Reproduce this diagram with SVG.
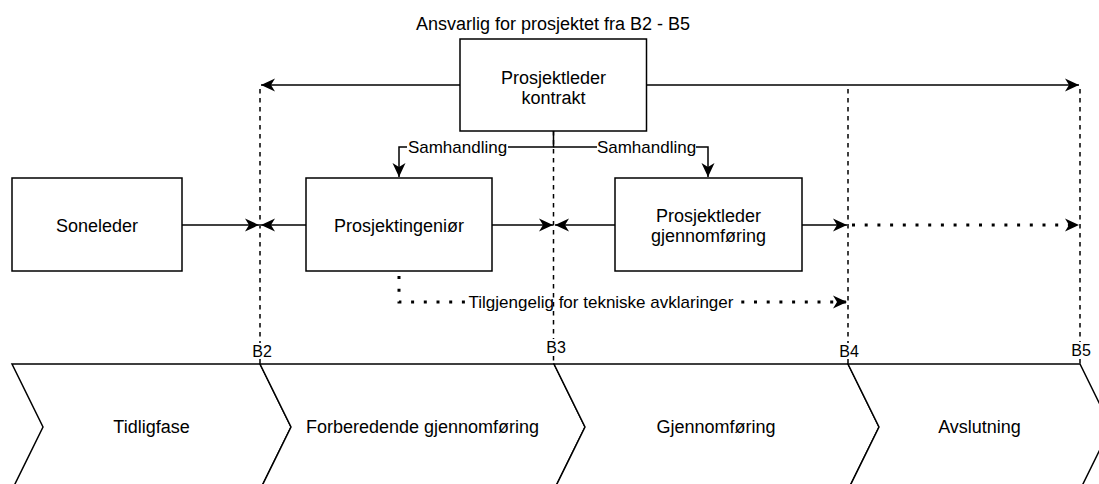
<svg xmlns="http://www.w3.org/2000/svg" width="1099" height="484" viewBox="0 0 1099 484">
  <style>
    text { font-family: "Liberation Sans", Arial, Helvetica, sans-serif; fill: #000; text-anchor: middle; }
    .node { fill: #fff; stroke: #000; stroke-width: 1.5; }
    .phase { fill: #fff; stroke: #000; stroke-width: 1.5; stroke-linejoin: miter; }
    .t18 { font-size: 18px; }
    .t17 { font-size: 17px; }
    .t16 { font-size: 16px; }
    .edge { fill: none; stroke: #000; stroke-width: 1.5; }
    .dotted { fill: none; stroke: #000; stroke-width: 3; stroke-dasharray: 3 9.7; }
    .dashed { fill: none; stroke: #000; stroke-width: 1.5; stroke-dasharray: 4.5 4.5; }
    .bg { fill: #fff; stroke: none; }
  </style>
  <defs>
    <marker id="arrow" markerWidth="15" markerHeight="14" refX="14" refY="7" orient="auto" markerUnits="userSpaceOnUse">
      <path d="M0,0.5 L14,7 L0,13.5 L4,7 Z" fill="#000"/>
    </marker>
  </defs>

  <!-- phase chevrons -->
  <g id="phase-tidligfase">
    <polygon class="phase" points="12,364 260,364 291,427 260,490 12,490 43,427"/>
    <text class="t18" x="151.5" y="433">Tidligfase</text>
  </g>
  <g id="phase-forberedende">
    <polygon class="phase" points="260,364 554,364 585,427 554,490 260,490 291,427"/>
    <text class="t18" x="422.5" y="433">Forberedende gjennomføring</text>
  </g>
  <g id="phase-gjennomforing">
    <polygon class="phase" points="554,364 848,364 879,427 848,490 554,490 585,427"/>
    <text class="t18" x="716" y="433">Gjennomføring</text>
  </g>
  <g id="phase-avslutning">
    <polygon class="phase" points="848,364 1080,364 1111,427 1080,490 848,490 879,427"/>
    <text class="t18" x="979.5" y="433">Avslutning</text>
  </g>

  <!-- connectors -->
  <g id="connectors">
    <!-- responsibility span from the contract lead -->
    <path class="edge" d="M460,85 L261,85" marker-end="url(#arrow)"/>
    <path class="edge" d="M646,85 L1079,85" marker-end="url(#arrow)"/>

    <!-- Samhandling links -->
    <path class="edge" d="M553.5,131 L553.5,147 L399,147 L399,177" marker-end="url(#arrow)"/>
    <path class="edge" d="M553.5,147 L708,147 L708,177" marker-end="url(#arrow)"/>
    <rect class="bg" x="407" y="138" width="101" height="18"/>
    <text class="t17" x="457.5" y="153">Samhandling</text>
    <rect class="bg" x="597" y="138" width="99" height="18"/>
    <text class="t17" x="646.5" y="153">Samhandling</text>

    <!-- hand-over arrows to milestones -->
    <path class="edge" d="M182,225 L259,225" marker-end="url(#arrow)"/>
    <path class="edge" d="M306,225 L261,225" marker-end="url(#arrow)"/>
    <path class="edge" d="M492,225 L553,225" marker-end="url(#arrow)"/>
    <path class="edge" d="M615,225 L555,225" marker-end="url(#arrow)"/>
    <path class="edge" d="M802,225 L847,225" marker-end="url(#arrow)"/>
    <path class="dotted" d="M852,225 L1079,225" marker-end="url(#arrow)"/>

    <!-- technical support line -->
    <path class="dotted" d="M399,276 L399,302 L847,302" marker-end="url(#arrow)"/>
    <rect class="bg" x="467" y="292" width="268" height="19"/>
    <text class="t17" x="601" y="308">Tilgjengelig for tekniske avklaringer</text>

    <!-- milestone lines -->
    <path class="dashed" d="M260,89 L260,364"/>
    <path class="dashed" d="M553.5,131 L553.5,364"/>
    <path class="dashed" d="M848,89 L848,364"/>
    <path class="dashed" d="M1080,89 L1080,364"/>
    <rect class="bg" x="252" y="343" width="21" height="16"/>
    <text class="t16" x="262" y="357">B2</text>
    <rect class="bg" x="546" y="339" width="21" height="16"/>
    <text class="t16" x="556" y="353">B3</text>
    <rect class="bg" x="839" y="343" width="21" height="16"/>
    <text class="t16" x="849" y="357">B4</text>
    <rect class="bg" x="1071" y="342" width="21" height="16"/>
    <text class="t16" x="1081" y="356">B5</text>
  </g>

  <!-- responsibility caption -->
  <text id="caption" class="t18" x="553" y="30">Ansvarlig for prosjektet fra B2 - B5</text>

  <!-- nodes -->
  <g id="node-kontrakt">
    <rect class="node" x="460" y="39" width="186.5" height="92"/>
    <text class="t18" x="553.5" y="83.5">Prosjektleder</text>
    <text class="t18" x="553.5" y="104">kontrakt</text>
  </g>
  <g id="node-soneleder">
    <rect class="node" x="12" y="178" width="170" height="93"/>
    <text class="t18" x="97" y="231.5">Soneleder</text>
  </g>
  <g id="node-ingenior">
    <rect class="node" x="306" y="178" width="186" height="93"/>
    <text class="t18" x="399" y="231.5">Prosjektingeniør</text>
  </g>
  <g id="node-gjennomforing">
    <rect class="node" x="615" y="178" width="187" height="93"/>
    <text class="t18" x="708.5" y="221.5">Prosjektleder</text>
    <text class="t18" x="708.5" y="242">gjennomføring</text>
  </g>
</svg>
